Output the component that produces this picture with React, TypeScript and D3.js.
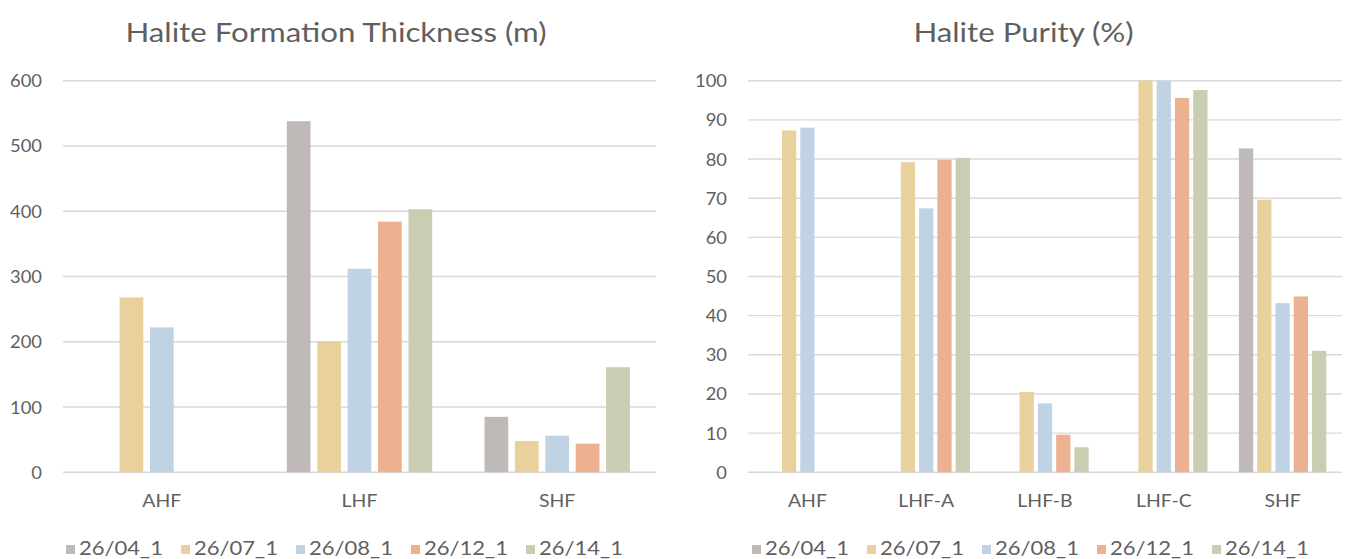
import React from "react";
import * as d3 from "d3";

// Series (sampling wells) and their colours
const seriesNames = ["26/04_1", "26/07_1", "26/08_1", "26/12_1", "26/14_1"];
const seriesColors = ["#bfb9b8", "#e8d19c", "#bfd3e5", "#ecb190", "#c9cdb2"];

// Halite formation thickness (m)
const thicknessCategories = ["AHF", "LHF", "SHF"];
const thickness_26_04_1 = [null, 538, 85];
const thickness_26_07_1 = [268, 201, 48];
const thickness_26_08_1 = [222, 312, 56];
const thickness_26_12_1 = [null, 384, 44];
const thickness_26_14_1 = [null, 403, 161];
const thicknessTicks = [0, 100, 200, 300, 400, 500, 600];

// Halite purity (%)
const purityCategories = ["AHF", "LHF-A", "LHF-B", "LHF-C", "SHF"];
const purity_26_04_1 = [null, null, null, null, 82.7];
const purity_26_07_1 = [87.3, 79.2, 20.5, 100, 69.6];
const purity_26_08_1 = [88, 67.4, 17.6, 100, 43.2];
const purity_26_12_1 = [null, 79.8, 9.6, 95.6, 44.9];
const purity_26_14_1 = [null, 80.3, 6.4, 97.6, 31];
const purityTicks = [0, 10, 20, 30, 40, 50, 60, 70, 80, 90, 100];

const FONT = "Lato, 'Open Sans', sans-serif";
const TEXT = "#5f5f5f";
const GRID = "#d9d9d9";

type Panel = {
  title: string;
  titleX: number;
  categories: string[];
  series: (number | null)[][];
  ticks: number[];
  max: number;
  x0: number;
  x1: number;
  labelX: number;
  legendCenter: number;
};

const Y_TOP = 80.7;
const Y_BOTTOM = 472.3;

// Text drawn at (x, y) with a slight horizontal widening
function Label(props: {
  x: number;
  y: number;
  size: number;
  sx: number;
  anchor?: "start" | "middle" | "end";
  dy?: string;
  children: React.ReactNode;
}) {
  return (
    <text
      transform={`translate(${props.x},${props.y}) scale(${props.sx},1)`}
      dy={props.dy}
      textAnchor={props.anchor ?? "start"}
      fontFamily={FONT}
      fontSize={props.size}
      fill={TEXT}
    >
      {props.children}
    </text>
  );
}

function BarPanel({ p }: { p: Panel }) {
  const y = d3.scaleLinear().domain([0, p.max]).range([Y_BOTTOM, Y_TOP]);
  const x = d3.scaleBand().domain(p.categories).range([p.x0, p.x1]).padding(0);
  const inner = d3
    .scaleBand()
    .domain(seriesNames)
    .range([0, x.bandwidth()])
    .paddingInner(0.22)
    .paddingOuter(0.86);

  const legendStep = 115;
  const legendStart = p.legendCenter - (legendStep * (seriesNames.length - 1) + 92) / 2;

  return (
    <g>
      <Label x={p.titleX} y={42} size={26} sx={1.2} anchor="middle">
        {p.title}
      </Label>
      {p.ticks.map((t) => (
        <g key={t}>
          <line x1={p.x0} x2={p.x1} y1={y(t)} y2={y(t)} stroke={GRID} strokeWidth={1.4} />
          <Label x={p.labelX} y={y(t)} size={18} sx={1.02} anchor="end" dy="0.36em">
            {t}
          </Label>
        </g>
      ))}
      {p.series.map((vals, si) =>
        vals.map((v, ci) =>
          v == null ? null : (
            <rect
              key={`${si}-${ci}`}
              x={(x(p.categories[ci]) as number) + (inner(seriesNames[si]) as number)}
              y={y(v)}
              width={inner.bandwidth()}
              height={Y_BOTTOM - y(v)}
              fill={seriesColors[si]}
            />
          )
        )
      )}
      {p.categories.map((c) => (
        <Label key={c} x={(x(c) as number) + x.bandwidth() / 2} y={507} size={18} sx={1.08} anchor="middle">
          {c}
        </Label>
      ))}
      {seriesNames.map((s, i) => (
        <g key={s} transform={`translate(${legendStart + i * legendStep},0)`}>
          <rect x={0} y={545} width={9} height={9} fill={seriesColors[i]} />
          <Label x={13} y={554.5} size={19.5} sx={1.13}>
            {s}
          </Label>
        </g>
      ))}
    </g>
  );
}

export default function App() {
  const panels: Panel[] = [
    {
      title: "Halite Formation Thickness (m)",
      titleX: 336,
      categories: thicknessCategories,
      series: [thickness_26_04_1, thickness_26_07_1, thickness_26_08_1, thickness_26_12_1, thickness_26_14_1],
      ticks: thicknessTicks,
      max: 600,
      x0: 63,
      x1: 656,
      labelX: 42,
      legendCenter: 342,
    },
    {
      title: "Halite Purity (%)",
      titleX: 1023.5,
      categories: purityCategories,
      series: [purity_26_04_1, purity_26_07_1, purity_26_08_1, purity_26_12_1, purity_26_14_1],
      ticks: purityTicks,
      max: 100,
      x0: 748,
      x1: 1342,
      labelX: 727,
      legendCenter: 1028,
    },
  ];
  return (
    <div style={{ position: "fixed", left: 0, top: 0 }}>
      <svg width={1346} height={559} style={{ display: "block", background: "#ffffff" }}>
        {panels.map((p) => (
          <BarPanel key={p.title} p={p} />
        ))}
      </svg>
    </div>
  );
}
